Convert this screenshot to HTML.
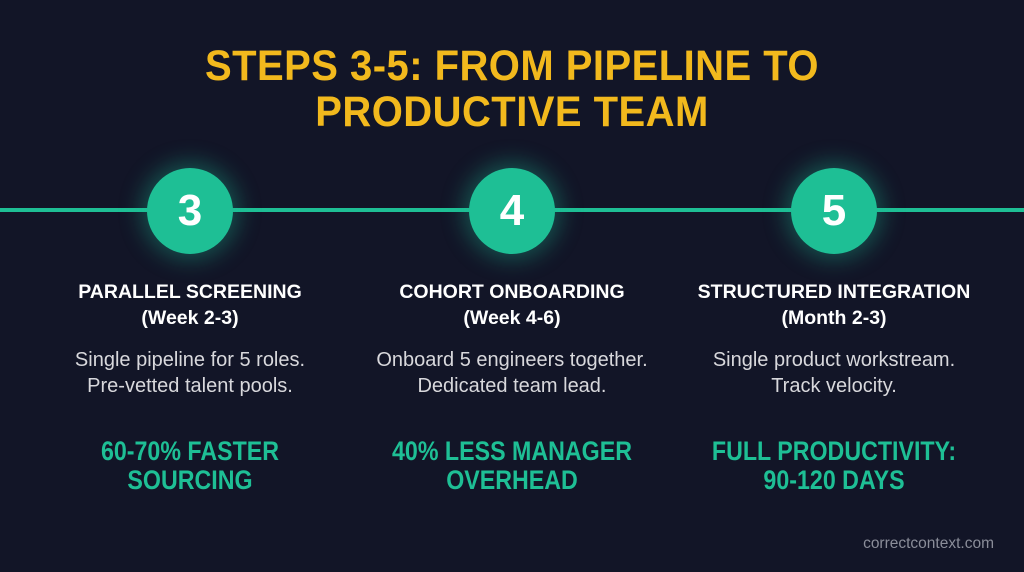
<!DOCTYPE html>
<html><head><meta charset="utf-8"><style>
*{margin:0;padding:0;box-sizing:border-box}
body{width:1024px;height:572px;background:#121527;position:relative;overflow:hidden;font-family:"Liberation Sans",sans-serif}
.t{position:absolute;left:0;width:1024px;text-align:center;color:#f2b91d;font-weight:bold;font-size:43px;letter-spacing:0.5px;transform:scaleX(0.93)}
.line{position:absolute;left:0;top:208px;width:1024px;height:4px;background:#1ebf95}
.c{position:absolute;top:168px;width:86px;height:86px;border-radius:50%;background:#1ebf95;color:#fff;font-weight:bold;font-size:44px;text-align:center;line-height:86px;box-shadow:0 0 22px 6px rgba(30,191,149,0.35)}
.col{position:absolute;width:320px;text-align:center}
.h{color:#fff;font-weight:bold;font-size:19.5px;line-height:26px;position:absolute;top:279px;width:320px}
.b{color:#d8d8dc;font-size:20px;line-height:26px;position:absolute;top:347px;width:320px}
.s{color:#1ebf95;font-weight:bold;font-size:27px;line-height:29px;position:absolute;top:437px;width:320px;transform:scaleX(0.86)}
.f{position:absolute;right:30px;top:535px;color:#8a8d99;font-size:15.5px}
</style></head><body>
<div class="t" style="top:42px">STEPS 3-5: FROM PIPELINE TO</div>
<div class="t" style="top:88px">PRODUCTIVE TEAM</div>
<div class="line"></div>
<div class="c" style="left:147px">3</div>
<div class="c" style="left:469px">4</div>
<div class="c" style="left:791px">5</div>
<div class="col" style="left:30px;top:0">
<div class="h">PARALLEL SCREENING<br>(Week 2-3)</div>
<div class="b">Single pipeline for 5 roles.<br>Pre-vetted talent pools.</div>
<div class="s">60-70% FASTER<br>SOURCING</div></div>
<div class="col" style="left:352px;top:0">
<div class="h">COHORT ONBOARDING<br>(Week 4-6)</div>
<div class="b">Onboard 5 engineers together.<br>Dedicated team lead.</div>
<div class="s">40% LESS MANAGER<br>OVERHEAD</div></div>
<div class="col" style="left:674px;top:0">
<div class="h">STRUCTURED INTEGRATION<br>(Month 2-3)</div>
<div class="b">Single product workstream.<br>Track velocity.</div>
<div class="s">FULL PRODUCTIVITY:<br>90-120 DAYS</div></div>
<div class="f">correctcontext.com</div>
</body></html>
